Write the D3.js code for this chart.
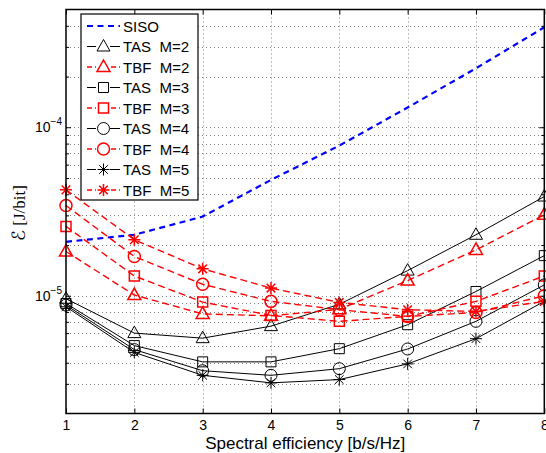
<!DOCTYPE html>
<html><head><meta charset="utf-8">
<script src="https://cdn.jsdelivr.net/npm/d3@7"></script>
<style>body{margin:0;background:#fff}svg{display:block}</style>
</head><body><svg id="c" width="546" height="453"></svg>
<script>
const xVals = [1, 2, 3, 4, 5, 6, 7, 8];
const siso  = [2.09e-5, 2.30e-5, 2.95e-5, 4.87e-5, 7.78e-5, 1.31e-4, 2.24e-4, 3.92e-4];
const tasM2 = [9.6e-6, 6.0e-6, 5.6e-6, 6.6e-6, 8.9e-6, 1.41e-5, 2.30e-5, 3.88e-5];
const tbfM2 = [1.83e-5, 1.01e-5, 7.8e-6, 7.6e-6, 8.3e-6, 1.23e-5, 1.87e-5, 3.02e-5];
const tasM3 = [9.0e-6, 5.06e-6, 4.05e-6, 4.05e-6, 4.85e-6, 6.73e-6, 1.06e-5, 1.73e-5];
const tbfM3 = [2.58e-5, 1.31e-5, 9.17e-6, 7.64e-6, 7.05e-6, 7.54e-6, 9.26e-6, 1.31e-5];
const tasM4 = [8.8e-6, 4.79e-6, 3.59e-6, 3.37e-6, 3.69e-6, 4.83e-6, 7.05e-6, 1.16e-5];
const tbfM4 = [3.43e-5, 1.71e-5, 1.17e-5, 9.26e-6, 8.26e-6, 7.54e-6, 7.96e-6, 1.0e-5];
const tasM5 = [8.6e-6, 4.61e-6, 3.37e-6, 3.04e-6, 3.18e-6, 3.94e-6, 5.56e-6, 9.26e-6];
const tbfM5 = [4.25e-5, 2.15e-5, 1.445e-5, 1.11e-5, 9.13e-6, 8.26e-6, 8.07e-6, 9.26e-6];
const seriesNames = ["SISO", "TAS  M=2", "TBF  M=2", "TAS  M=3", "TBF  M=3", "TAS  M=4", "TBF  M=4", "TAS  M=5", "TBF  M=5"];
const xTickLabels = ["1", "2", "3", "4", "5", "6", "7", "8"];
const yMajorTicks = [1e-5, 1e-4];
const yTickExp = ["\u22125", "\u22124"];
const xLabel = "Spectral efficiency [b/s/Hz]";
const yLabelSym = "\u2130";
const yLabelUnit = " [J/bit]";

const series = [
  {name: seriesNames[0], vals: siso,  color: "#0000ff", dash: "6,4.5", w: 2.2, marker: null},
  {name: seriesNames[1], vals: tasM2, color: "#000", dash: null, w: 1, marker: "tri"},
  {name: seriesNames[2], vals: tbfM2, color: "#ff0000", dash: "7,4", w: 1.4, marker: "tri"},
  {name: seriesNames[3], vals: tasM3, color: "#000", dash: null, w: 1, marker: "sq"},
  {name: seriesNames[4], vals: tbfM3, color: "#ff0000", dash: "7,4", w: 1.4, marker: "sq"},
  {name: seriesNames[5], vals: tasM4, color: "#000", dash: null, w: 1, marker: "circ"},
  {name: seriesNames[6], vals: tbfM4, color: "#ff0000", dash: "7,4", w: 1.4, marker: "circ"},
  {name: seriesNames[7], vals: tasM5, color: "#000", dash: null, w: 1, marker: "star"},
  {name: seriesNames[8], vals: tbfM5, color: "#ff0000", dash: "7,4", w: 1.4, marker: "star"}
];

const L = 66, R = 544.3, T = 9.5, B = 413.5;
const svg = d3.select("#c");
const x = d3.scaleLinear().domain([1, 8]).range([L, R]);
const y = d3.scaleLog().domain([2e-6, 5e-4]).range([B, T]);
const font = "'Liberation Sans', Arial, Helvetica, sans-serif";

// grid
const yGrid = [];
for (let e = -6; e <= -4; e++) for (let m = 1; m <= 9; m++) {
  const v = m * Math.pow(10, e);
  if (v > 2e-6 * 1.0001 && v < 5e-4 * 0.9999) yGrid.push(v);
}
const grid = svg.append("g").attr("stroke", "#808080").attr("stroke-width", 1).attr("stroke-dasharray", "1,3");
grid.selectAll(".gx").data(xVals.slice(1, -1)).enter().append("line")
  .attr("x1", d => Math.round(x(d)) + 0.5).attr("x2", d => Math.round(x(d)) + 0.5).attr("y1", T).attr("y2", B);
grid.selectAll(".gy").data(yGrid).enter().append("line")
  .attr("x1", L).attr("x2", R).attr("y1", d => Math.round(y(d)) + 0.5).attr("y2", d => Math.round(y(d)) + 0.5);

// axes
const xAxis = d3.axisBottom(x).tickValues(xVals).tickFormat((d, i) => xTickLabels[i]).tickSizeInner(-5).tickSizeOuter(0).tickPadding(7);
const gx = svg.append("g").attr("transform", `translate(0,${B})`).call(xAxis);
gx.select(".domain").remove();
gx.selectAll("text").attr("font-family", font).attr("font-size", 14).attr("fill", "#000");
const gxTop = svg.append("g").attr("transform", `translate(0,${T})`).call(d3.axisTop(x).tickValues(xVals).tickFormat("").tickSizeInner(-5).tickSizeOuter(0));
gxTop.select(".domain").remove();

const yMinor = yGrid.filter(v => yMajorTicks.indexOf(v) < 0);
[[L, d3.axisLeft], [R, d3.axisRight]].forEach(([pos, ax]) => {
  const g1 = svg.append("g").attr("transform", `translate(${pos},0)`).call(ax(y).tickValues(yMajorTicks).tickFormat("").tickSizeInner(-5).tickSizeOuter(0));
  g1.select(".domain").remove();
  const g2 = svg.append("g").attr("transform", `translate(${pos},0)`).call(ax(y).tickValues(yMinor).tickFormat("").tickSizeInner(-3).tickSizeOuter(0));
  g2.select(".domain").remove();
});
// y tick labels with superscripts
yMajorTicks.forEach((v, i) => {
  const t = svg.append("text").attr("x", 62).attr("y", y(v) + 5).attr("text-anchor", "end")
    .attr("font-family", font).attr("font-size", 14).attr("fill", "#000");
  t.append("tspan").text("10");
  t.append("tspan").attr("dy", -7).attr("font-size", 10).text(yTickExp[i]);
});

// marker path
function markerPath(type) {
  if (type === "tri") return "M0,-7L6.5,4.5L-6.5,4.5Z";
  if (type === "sq") return "M-5,-5H5V5H-5Z";
  if (type === "circ") return "M6,0A6,6 0 1,1 -6,0A6,6 0 1,1 6,0Z";
  if (type === "star") return "M-6,0H6M0,-6V6M-4.3,-4.3L4.3,4.3M-4.3,4.3L4.3,-4.3";
  return "";
}

const line = d3.line().x(d => x(d.x)).y(d => y(d.v));
series.forEach(s => {
  const pts = xVals.map((xv, i) => ({x: xv, v: s.vals[i]}));
  svg.append("path").datum(pts).attr("d", line).attr("fill", "none")
    .attr("stroke", s.color).attr("stroke-width", s.w).attr("stroke-dasharray", s.dash);
  if (s.marker) {
    svg.append("g").selectAll("path").data(pts).enter().append("path")
      .attr("transform", d => `translate(${x(d.x)},${y(d.v)})`)
      .attr("d", markerPath(s.marker)).attr("fill", "none")
      .attr("stroke", s.color).attr("stroke-width", s.color === "#000" ? 1 : 1.5);
  }
});

// frame
svg.append("rect").attr("x", L).attr("y", T).attr("width", R - L).attr("height", B - T)
  .attr("fill", "none").attr("stroke", "#000").attr("stroke-width", 1.5);

// legend
const lg = svg.append("g");
lg.append("rect").attr("x", 81).attr("y", 14).attr("width", 117).attr("height", 186)
  .attr("fill", "#fff").attr("stroke", "#000").attr("stroke-width", 1.2);
series.forEach((s, i) => {
  const yy = 26 + i * 20.5;
  lg.append("line").attr("x1", 87).attr("x2", 120).attr("y1", yy).attr("y2", yy)
    .attr("stroke", s.color).attr("stroke-width", s.w).attr("stroke-dasharray", s.dash ? (s.marker ? "5,3" : "6,4.5") : null);
  if (s.marker) {
    lg.append("rect").attr("x", 96).attr("y", yy - 8).attr("width", 14).attr("height", 16).attr("fill", "#fff");
    lg.append("path").attr("transform", `translate(103.5,${yy})`).attr("d", markerPath(s.marker))
      .attr("fill", "none").attr("stroke", s.color).attr("stroke-width", s.color === "#000" ? 1 : 1.5);
  }
  lg.append("text").attr("x", 123).attr("y", yy + 5.5).attr("font-family", font).attr("font-size", 15)
    .attr("fill", "#000").attr("xml:space", "preserve").style("white-space", "pre").text(s.name);
});

// axis labels
svg.append("text").attr("x", (L + R) / 2).attr("y", 448.5).attr("text-anchor", "middle")
  .attr("font-family", font).attr("font-size", 17).attr("fill", "#000").text(xLabel);
const yl = svg.append("text").attr("transform", `translate(25,213) rotate(-90)`).attr("text-anchor", "middle")
  .attr("font-family", "'Liberation Serif', 'DejaVu Serif', serif").attr("font-size", 17).attr("fill", "#000")
  .style("white-space", "pre");
yl.append("tspan").attr("font-family", "'DejaVu Sans', 'Noto Sans', sans-serif").attr("font-size", 18).text(yLabelSym);
yl.append("tspan").text(yLabelUnit);
</script></body></html>
